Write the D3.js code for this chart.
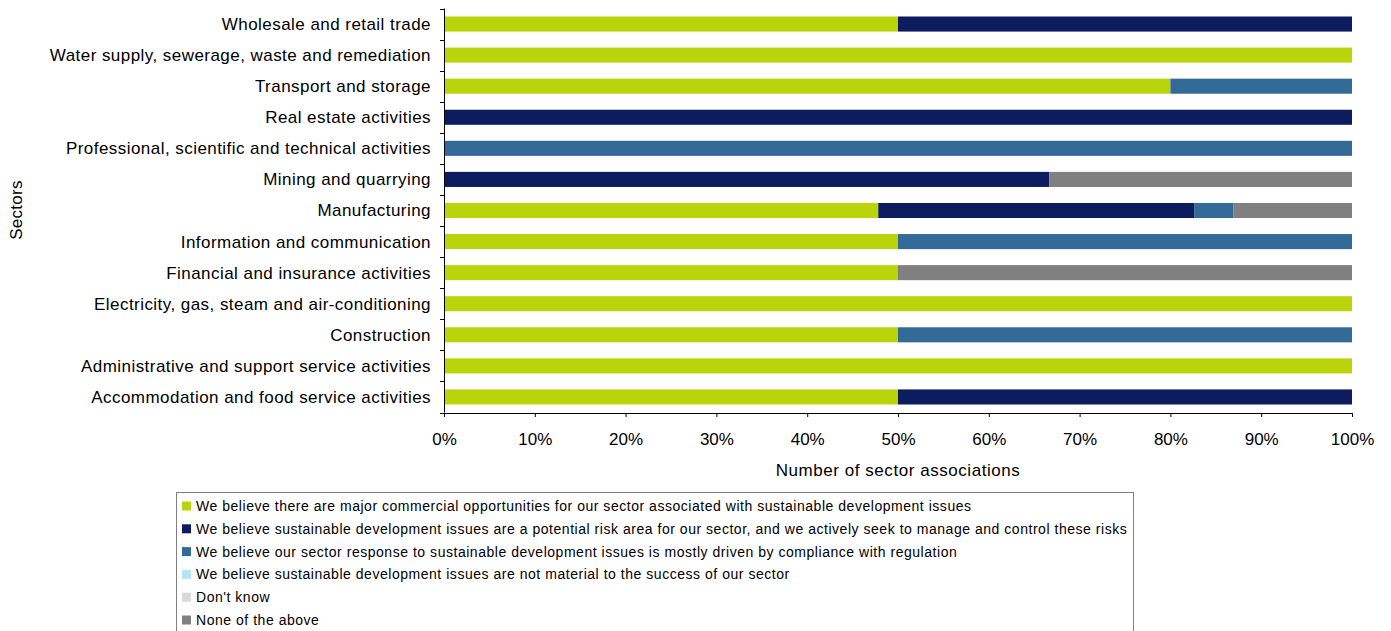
<!DOCTYPE html>
<html>
<head>
<meta charset="utf-8">
<script src="https://cdn.jsdelivr.net/npm/d3@7"></script>
<style>
  html, body { margin: 0; padding: 0; background: #fff; }
  svg { display: block; font-family: "Liberation Sans", Arial, sans-serif; }
</style>
</head>
<body>
<svg id="chart" width="1391" height="631"></svg>
<script>
// Sectors, listed top to bottom as drawn
const sectors = [
  "Wholesale and retail trade",
  "Water supply, sewerage, waste and remediation",
  "Transport and storage",
  "Real estate activities",
  "Professional, scientific and technical activities",
  "Mining and quarrying",
  "Manufacturing",
  "Information and communication",
  "Financial and insurance activities",
  "Electricity, gas, steam and air-conditioning",
  "Construction",
  "Administrative and support service activities",
  "Accommodation and food service activities"
];

// Share of sector associations (%) per response, same order as sectors
const opportunities = [50, 100, 80, 0, 0, 0, 47.83, 50, 50, 100, 50, 100, 50];
const riskArea      = [50, 0, 0, 100, 0, 66.67, 34.78, 0, 0, 0, 0, 0, 50];
const compliance    = [0, 0, 20, 0, 100, 0, 4.35, 50, 0, 0, 50, 0, 0];
const notMaterial   = [0, 0, 0, 0, 0, 0, 0, 0, 0, 0, 0, 0, 0];
const dontKnow      = [0, 0, 0, 0, 0, 0, 0, 0, 0, 0, 0, 0, 0];
const noneAbove     = [0, 0, 0, 0, 0, 33.33, 13.04, 0, 50, 0, 0, 0, 0];

const seriesNames = [
  "We believe there are major commercial opportunities for our sector associated with sustainable development issues",
  "We believe sustainable development issues are a potential risk area for our sector, and we actively seek to manage and control these risks",
  "We believe our sector response to sustainable development issues is mostly driven by compliance with regulation",
  "We believe sustainable development issues are not material to the success of our sector",
  "Don't know",
  "None of the above"
];
const seriesColors = ["#b9d40b", "#0c1c5e", "#346a98", "#b3e5f5", "#d9d9d9", "#808080"];
const xTicks = [0, 10, 20, 30, 40, 50, 60, 70, 80, 90, 100];

const seriesValues = [opportunities, riskArea, compliance, notMaterial, dontKnow, noneAbove];
const keys = seriesNames.map((_, i) => "s" + i);
const table = sectors.map((name, r) => {
  const row = { sector: name };
  keys.forEach((k, i) => { row[k] = seriesValues[i][r]; });
  return row;
});

const svg = d3.select("#chart");
const plotLeft = 444, plotRight = 1352, plotTop = 8.5, plotBottom = 412.5;

const x = d3.scaleLinear().domain([0, 100]).range([plotLeft, plotRight]);
const y = d3.scaleBand().domain(sectors).range([plotTop, plotBottom]).paddingInner(0.515).paddingOuter(0.2575);

const stacked = d3.stack().keys(keys)(table);

svg.append("g").selectAll("g")
  .data(stacked)
  .join("g")
  .attr("fill", (d, i) => seriesColors[i])
  .selectAll("rect")
  .data(d => d)
  .join("rect")
  .attr("x", d => x(d[0]))
  .attr("y", d => y(d.data.sector))
  .attr("width", d => Math.max(0, x(d[1]) - x(d[0])))
  .attr("height", y.bandwidth());

// Y axis: line with ticks between categories
const yAxisG = svg.append("g");
yAxisG.append("line")
  .attr("x1", plotLeft + 0.5).attr("x2", plotLeft + 0.5)
  .attr("y1", plotTop).attr("y2", plotBottom)
  .attr("stroke", "#000").attr("stroke-width", 1);
const boundaries = d3.range(sectors.length + 1).map(i => plotTop + i * (plotBottom - plotTop) / sectors.length);
yAxisG.selectAll("line.tk")
  .data(boundaries)
  .join("line")
  .attr("class", "tk")
  .attr("x1", plotLeft - 4).attr("x2", plotLeft + 0.5)
  .attr("y1", d => Math.round(d) + 0.5).attr("y2", d => Math.round(d) + 0.5)
  .attr("stroke", "#000");
yAxisG.selectAll("text")
  .data(sectors)
  .join("text")
  .attr("x", plotLeft - 13)
  .attr("y", d => y(d) + y.bandwidth() / 2)
  .attr("dy", "0.35em")
  .attr("text-anchor", "end")
  .attr("font-size", 17)
  .attr("letter-spacing", 0.45)
  .attr("fill", "#000")
  .text(d => d);

// X axis
const xAxis = d3.axisBottom(x)
  .tickValues(xTicks)
  .tickFormat(d => d + "%")
  .tickSize(4)
  .tickSizeOuter(0)
  .tickPadding(16);
const xg = svg.append("g")
  .attr("transform", `translate(0,${plotBottom + 0.5})`)
  .call(xAxis);
xg.select(".domain").attr("stroke", "#000");
xg.selectAll(".tick line").attr("stroke", "#000");
xg.selectAll(".tick text")
  .attr("font-size", 17)
  .attr("font-family", "Liberation Sans, Arial, sans-serif")
  .attr("fill", "#000");

// Axis titles
svg.append("text")
  .attr("x", (plotLeft + plotRight) / 2)
  .attr("y", 476)
  .attr("text-anchor", "middle")
  .attr("font-size", 17)
  .attr("letter-spacing", 0.55)
  .attr("fill", "#000")
  .text("Number of sector associations");

svg.append("text")
  .attr("transform", "translate(22,210) rotate(-90)")
  .attr("text-anchor", "middle")
  .attr("font-size", 17)
  .attr("letter-spacing", 0.3)
  .attr("fill", "#000")
  .text("Sectors");

// Legend
const lg = svg.append("g");
lg.append("rect")
  .attr("x", 176.5).attr("y", 492.5)
  .attr("width", 957).attr("height", 150)
  .attr("fill", "#fff").attr("stroke", "#808080").attr("stroke-width", 1);
const items = lg.selectAll("g.item")
  .data(seriesNames)
  .join("g")
  .attr("class", "item")
  .attr("transform", (d, i) => `translate(182,${506 + i * 22.8})`);
items.append("rect")
  .attr("x", 0).attr("y", -4.5)
  .attr("width", 9).attr("height", 9)
  .attr("fill", (d, i) => seriesColors[i]);
items.append("text")
  .attr("x", 14)
  .attr("y", 0)
  .attr("dy", "0.36em")
  .attr("font-size", 14)
  .attr("letter-spacing", 0.53)
  .attr("fill", "#000")
  .text(d => d);
</script>
</body>
</html>
